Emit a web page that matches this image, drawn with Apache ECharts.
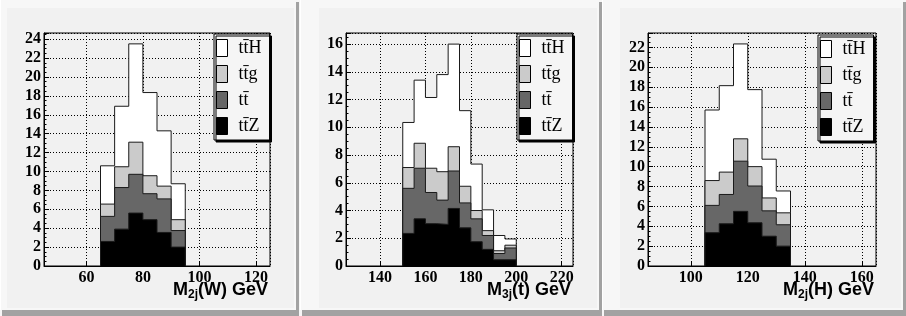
<!DOCTYPE html>
<html>
<head>
<meta charset="utf-8">
<script src="https://cdn.jsdelivr.net/npm/echarts@6/dist/echarts.min.js"></script>
<style>
  html, body { margin: 0; padding: 0; background: #f6f6f6; }
  #chart { width: 906px; height: 316px; }
</style>
</head>
<body>
<div id="chart"></div>
<script>
// ---- data (per-process contributions, stacked bottom -> top) ----
const binWidth = 5;
const processNames = ['tt\u0304Z', 'tt\u0304', 'tt\u0304g', 'tt\u0304H']; // bottom to top
const legendOrder = ['tt\u0304H', 'tt\u0304g', 'tt\u0304', 'tt\u0304Z'];   // top to bottom

// Panel 1: M2j(W)
const wBins = [65, 70, 75, 80, 85, 90];
const wTtZ = [2.6, 3.9, 5.6, 4.9, 3.55, 2.0];
const wTt  = [2.65, 4.4, 4.1, 2.75, 3.55, 1.75];
const wTtg = [1.3, 2.2, 3.4, 1.9, 1.35, 1.15];
const wTtH = [4.05, 6.4, 10.4, 8.8, 5.85, 3.8];

// Panel 2: M3j(t)
const tBins = [150, 155, 160, 165, 170, 175, 180, 185, 190, 195];
const tTtZ = [2.35, 3.4, 3.05, 3.0, 4.15, 2.75, 1.75, 1.2, 0.45, 0.45];
const tTt  = [3.25, 3.65, 2.25, 1.75, 2.7, 1.8, 1.65, 1.0, 0.45, 0.85];
const tTtg = [1.5, 1.8, 1.75, 2.05, 1.75, 1.2, 0.6, 0.35, 0.2, 0.2];
const tTtH = [3.25, 4.55, 5.1, 7.0, 7.4, 5.45, 3.35, 1.5, 1.1, 0.45];

// Panel 3: M2j(H)
const hBins = [105, 110, 115, 120, 125, 130];
const hTtZ = [3.35, 4.25, 5.5, 4.35, 3.0, 2.0];
const hTt  = [2.75, 2.95, 5.05, 3.7, 2.55, 2.15];
const hTtg = [2.5, 2.25, 2.25, 1.95, 1.3, 1.2];
const hTtH = [7.1, 8.7, 9.55, 7.75, 3.9, 2.2];

// axis settings
const xRanges = [[45, 125], [125, 225], [85, 165]];
const yMax = [24.65, 16.8, 23.45];
const xTitles = ['W', 't', 'H'];
const xSubs = ['2j', '3j', '2j'];

// ---- styling ----
const fills = { 'tt\u0304Z': '#000000', 'tt\u0304': '#676767', 'tt\u0304g': '#cbcbcb', 'tt\u0304H': '#ffffff' };
const grids = [
  { left: 44, top: 33, width: 226, height: 233 },
  { left: 346, top: 33, width: 227, height: 233 },
  { left: 648, top: 33, width: 228, height: 233 }
];
const legendPos = [[214, 34], [517, 34], [818, 35]];
const panelX = [[0, 296], [300, 599], [602, 903]];
const padX = [[7, 294], [319, 597], [620, 901]];

const panelsData = [
  { bins: wBins, vals: [wTtZ, wTt, wTtg, wTtH] },
  { bins: tBins, vals: [tTtZ, tTt, tTtg, tTtH] },
  { bins: hBins, vals: [hTtZ, hTt, hTtg, hTtH] }
];

function stepPoints(bins, vals) {
  const pts = [[bins[0], 0]];
  for (let i = 0; i < bins.length; i++) pts.push([bins[i], vals[i]]);
  const last = bins[bins.length - 1] + binWidth;
  pts.push([last, vals[vals.length - 1]]);
  pts.push([last, 0]);
  return pts;
}

const serif = 'Liberation Serif';
const sans = 'Liberation Sans';

const xAxes = [], yAxes = [], series = [], legends = [], graphics = [], titles = [];

panelsData.forEach((p, gi) => {
  xAxes.push({
    type: 'value', gridIndex: gi,
    min: xRanges[gi][0], max: xRanges[gi][1],
    splitNumber: 4, minInterval: 20, maxInterval: 20,
    axisLine: { show: true, lineStyle: { color: '#000', width: 1 } },
    axisTick: { show: true, inside: true, length: 5, lineStyle: { color: '#000' } },
    axisLabel: {
      show: true, margin: 4, showMinLabel: false, showMaxLabel: false,
      fontFamily: serif, fontWeight: 'bold', fontSize: 16, color: '#000'
    },
    splitLine: { show: true, lineStyle: { color: '#000', type: [1, 2], width: 1 } }
  });
  yAxes.push({
    type: 'value', gridIndex: gi, min: 0, max: yMax[gi], interval: 2,
    axisLine: { show: true, lineStyle: { color: '#000', width: 1 } },
    axisTick: { show: true, inside: true, length: 5, lineStyle: { color: '#000' } },
    minorTick: { show: true, splitNumber: 4, length: 2.5, lineStyle: { color: '#000' } },
    axisLabel: {
      show: true, margin: 3, showMaxLabel: false,
      fontFamily: serif, fontWeight: 'bold', fontSize: 16, color: '#000'
    },
    splitLine: { show: true, lineStyle: { color: '#000', type: [1, 2], width: 1 } }
  });

  // cumulative stacks (bottom -> top), drawn top-first so lower layers overlay
  const cum = [];
  processNames.forEach((name, k) => {
    cum.push(p.vals[k].map((v, i) => (k ? cum[k - 1][i] : 0) + v));
  });
  for (let k = processNames.length - 1; k >= 0; k--) {
    const name = processNames[k];
    series.push({
      name: name, type: 'line', xAxisIndex: gi, yAxisIndex: gi,
      step: 'end', showSymbol: false, symbol: 'none',
      silent: true, animation: false, z: 2 + (processNames.length - k) * 0.1,
      data: stepPoints(p.bins, cum[k]),
      lineStyle: { color: '#1a1a1a', width: 1 },
      itemStyle: { color: fills[name] },
      areaStyle: { color: fills[name], opacity: 1, origin: 'start' }
    });
  }
  legends.push({
    left: legendPos[gi][0], top: legendPos[gi][1],
    orient: 'vertical', icon: 'rect',
    itemWidth: 11, itemHeight: 17, itemGap: 8,
    padding: [5, 8, 5, 2],
    backgroundColor: '#f5f5f5', borderColor: '#000', borderWidth: 1,
    shadowColor: '#000', shadowOffsetX: 2, shadowOffsetY: 2, shadowBlur: 0,
    selectedMode: false,
    textStyle: { fontFamily: serif, fontSize: 18, color: '#000', padding: [0, 0, 0, 6] },
    data: legendOrder.map(n => ({ name: n, itemStyle: { color: fills[n], borderColor: '#000', borderWidth: 1 } }))
  });
  titles.push({
    text: '{a|M}{s|' + xSubs[gi] + '}{a|(' + xTitles[gi] + ') GeV}',
    right: 906 - (grids[gi].left + grids[gi].width) + 2,
    top: 281, padding: 0,
    textStyle: {
      rich: {
        a: { fontFamily: sans, fontWeight: 'bold', fontSize: 18, color: '#000', lineHeight: 20, verticalAlign: 'top' },
        s: { fontFamily: sans, fontWeight: 'bold', fontSize: 12, color: '#000', lineHeight: 12, verticalAlign: 'top', padding: [8, 0, 0, 0] }
      }
    }
  });

  // panel frame (ROOT-like pad bevel)
  const [x0, x1] = panelX[gi];
  graphics.push({ type: 'rect', z: -30, shape: { x: x0, y: 0, width: x1 - x0, height: 310 }, style: { fill: '#f7f7f7' } });
  graphics.push({ type: 'rect', z: -29, shape: { x: padX[gi][0], y: 8, width: padX[gi][1] - padX[gi][0], height: 300 }, style: { fill: '#f1f1f1' } });
  graphics.push({ type: 'rect', z: -28, shape: { x: x1, y: 2, width: 3, height: 314 }, style: { fill: '#a2a2a2' } });
  graphics.push({ type: 'rect', z: -28, shape: { x: x0 + 2, y: 310, width: x1 - x0 + 1, height: 6 }, style: { fill: '#a2a2a2' } });
  graphics.push({ type: 'rect', z: -28, shape: { x: x0, y: 0, width: 1, height: 310 }, style: { fill: '#ffffff' } });
});

const chart = echarts.init(document.getElementById('chart'), null, { renderer: 'canvas' });
chart.setOption({
  animation: false,
  backgroundColor: '#f6f6f6',
  title: titles,
  grid: grids.map(g => Object.assign({ show: true, backgroundColor: '#f1f1f1', borderColor: '#000', borderWidth: 1 }, g)),
  xAxis: xAxes,
  yAxis: yAxes,
  legend: legends,
  series: series,
  graphic: graphics
});
</script>
</body>
</html>
